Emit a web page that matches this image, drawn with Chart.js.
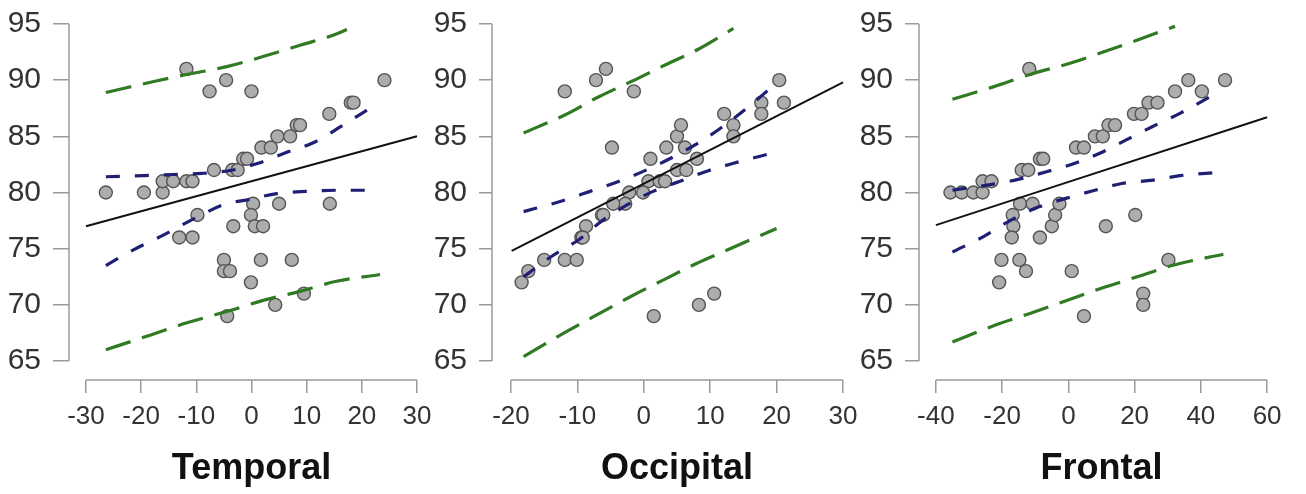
<!DOCTYPE html>
<html>
<head>
<meta charset="utf-8">
<script src="https://cdn.jsdelivr.net/npm/chart.js@4.4.0/dist/chart.umd.min.js"></script>
<style>
  html, body { margin: 0; padding: 0; background: #fff; }
  #wrap { position: relative; width: 1306px; height: 494px; overflow: hidden; }
  canvas { position: absolute; top: 0; }
</style>
</head>
<body>
<div id="wrap">
  <canvas id="temporal" width="436" height="494" style="left:0px"></canvas>
  <canvas id="occipital" width="436" height="494" style="left:430px"></canvas>
  <canvas id="frontal" width="450" height="494" style="left:856px"></canvas>
</div>
<script>
// valores de eje y
const yTicks = [65, 70, 75, 80, 85, 90, 95];

// Temporal
const temporalTicks = [-30, -20, -10, 0, 10, 20, 30];
const temporalPoints = [
  [-26.4, 80], [-19.5, 80], [-16.1, 80], [-16.1, 81], [-14.2, 81], [-11.8, 81], [-10.7, 81],
  [-11.8, 91], [-7.6, 89], [-4.6, 90], [0.0, 89], [-6.8, 82], [-3.5, 82], [-2.5, 82],
  [-1.5, 83], [-0.8, 83], [1.8, 84], [3.5, 84], [4.7, 85], [7.0, 85], [8.2, 86], [8.8, 86],
  [14.1, 87], [18.0, 88], [18.5, 88], [24.1, 90], [-9.8, 78], [0.3, 79], [5.0, 79], [14.2, 79],
  [-0.1, 78], [-3.3, 77], [0.6, 77], [2.1, 77], [-13.1, 76], [-10.7, 76], [-5.0, 74],
  [-5.0, 73], [-3.9, 73], [1.7, 74], [7.3, 74], [-0.1, 72], [-4.4, 69], [4.3, 70], [9.5, 71]
];
const temporalFit = [[-30, 77.0], [30, 85.0]];
const temporalCiUp = [[-26.4, 81.4], [-19.5, 81.5], [-14.3, 81.6], [-9.0, 81.7], [-3.4, 82.0],
  [1.2, 82.6], [6.5, 83.6], [11.5, 84.5], [16.3, 85.9], [22.1, 87.7]];
const temporalCiLo = [[-26.4, 73.5], [-21.4, 74.9], [-16.0, 76.2], [-9.9, 77.8], [-5.1, 78.9],
  [-0.3, 79.4], [4.6, 79.9], [10.0, 80.1], [15.4, 80.2], [22.1, 80.2]];
const temporalPiUp = [[-26.4, 88.9], [-17.5, 89.9], [-11.8, 90.5], [-4.5, 91.2], [2.1, 92.1],
  [8.8, 93.1], [14.8, 94.0], [17.3, 94.5]];
const temporalPiLo = [[-26.4, 66.0], [-18.4, 67.3], [-11.7, 68.4], [-4.5, 69.4], [2.1, 70.4],
  [8.8, 71.2], [15.4, 72.1], [23.3, 72.7]];

// Occipital
const occipitalTicks = [-20, -10, 0, 10, 20, 30];
const occipitalPoints = [
  [-11.9, 89], [-7.2, 90], [-5.7, 91], [-1.5, 89], [-4.8, 84], [1.0, 83], [3.4, 84], [5.0, 85],
  [5.6, 86], [6.2, 84], [5.0, 82], [6.4, 82], [8.0, 83], [12.1, 87], [13.5, 86], [13.5, 85],
  [17.7, 88], [17.7, 87], [20.4, 90], [21.1, 88], [0.7, 81], [2.4, 81], [3.2, 81], [-0.1, 80],
  [-2.2, 80], [-2.8, 79], [-4.6, 79], [-6.3, 78], [-6.1, 78], [-8.7, 77], [-9.4, 76], [-9.2, 76],
  [-18.4, 72], [-17.4, 73], [-15.0, 74], [-11.9, 74], [-10.1, 74], [1.5, 69], [8.3, 70], [10.6, 71]
];
const occipitalFit = [[-19.9, 74.8], [30, 89.8]];
const occipitalCiUp = [[-18.1, 78.3], [-12.6, 79.2], [-8.1, 80.1], [-3.7, 81.0], [0.0, 81.9],
  [3.9, 83.0], [8.2, 84.4], [11.5, 85.7], [15.5, 87.5], [19.3, 89.4]];
const occipitalCiLo = [[-18.1, 72.5], [-13.8, 74.35], [-9.8, 75.8], [-6.25, 77.5], [-2.2, 79.0],
  [1.4, 80.1], [5.45, 81.0], [9.5, 81.9], [13.5, 82.6], [19.3, 83.5]];
const occipitalPiUp = [[-18.1, 85.3], [-11.9, 86.9], [-6.85, 88.5], [-1.8, 89.9], [3.2, 91.35],
  [8.2, 92.75], [13.5, 94.6]];
const occipitalPiLo = [[-18.1, 65.4], [-12.0, 67.5], [-7.1, 69.1], [-2.1, 70.7], [2.9, 72.2],
  [8.0, 73.7], [13.0, 75.0], [20.0, 76.8]];

// Frontal
const frontalTicks = [-40, -20, 0, 20, 40, 60];
const frontalPoints = [
  [-35.6, 80], [-32.2, 80], [-28.7, 80], [-25.9, 80], [-25.9, 81], [-23.2, 81], [-14.1, 82],
  [-12.1, 82], [-8.6, 83], [-7.6, 83], [2.3, 84], [4.7, 84], [8.0, 85], [10.4, 85], [12.1, 86],
  [14.1, 86], [19.8, 87], [22.1, 87], [24.2, 88], [26.9, 88], [32.2, 89], [36.2, 90], [40.3, 89],
  [47.3, 90], [-11.8, 91], [-14.6, 79], [-10.8, 79], [-16.8, 78], [-16.6, 77], [-17.1, 76],
  [-8.6, 76], [-5.0, 77], [-4.0, 78], [-2.7, 79], [11.3, 77], [20.2, 78], [-20.2, 74],
  [-14.8, 74], [-12.8, 73], [-20.9, 72], [1.0, 73], [4.7, 69], [22.6, 71], [22.6, 70], [30.2, 74]
];
const frontalFit = [[-40, 77.1], [60, 86.7]];
const frontalCiUp = [[-35, 80.2], [-16.1, 81.1], [-6.6, 81.85], [2.0, 82.6], [9.5, 83.5],
  [17.6, 84.7], [25.6, 85.9], [33.7, 87.05], [43.8, 88.7]];
const frontalCiLo = [[-35, 74.7], [-25.5, 76.1], [-17.6, 77.5], [-9.1, 78.7], [-0.5, 79.5],
  [8.0, 80.2], [16.1, 80.8], [25.6, 81.1], [33.7, 81.5], [45.3, 81.8]];
const frontalPiUp = [[-35, 88.3], [-22.7, 89.4], [-10.6, 90.6], [0.5, 91.5], [10.5, 92.5],
  [21.1, 93.6], [32.2, 94.8]];
const frontalPiLo = [[-35, 66.7], [-22.0, 68.2], [-11.4, 69.25], [-0.3, 70.4], [10.2, 71.5],
  [20.8, 72.5], [31.9, 73.55], [46.8, 74.5]];

const FONT = "'Liberation Sans', Arial, Helvetica, sans-serif";
const AXIS_COLOR = '#9a9a9a';

const toXY = arr => arr.map(p => ({ x: p[0], y: p[1] }));

// linea de eje estilo R: solo entre el primer y ultimo tick
const rAxes = {
  id: 'rAxes',
  afterDraw(chart) {
    const { ctx, chartArea, scales } = chart;
    const xs = scales.x, ys = scales.y;
    ctx.save();
    ctx.strokeStyle = AXIS_COLOR;
    ctx.lineWidth = 1.5;
    ctx.beginPath();
    ctx.moveTo(chartArea.left, ys.getPixelForValue(ys.ticks[0].value));
    ctx.lineTo(chartArea.left, ys.getPixelForValue(ys.ticks[ys.ticks.length - 1].value));
    ctx.moveTo(xs.getPixelForValue(xs.ticks[0].value), chartArea.bottom);
    ctx.lineTo(xs.getPixelForValue(xs.ticks[xs.ticks.length - 1].value), chartArea.bottom);
    ctx.stroke();
    ctx.restore();
  }
};

function curve(data, color, width, dash) {
  return {
    data: toXY(data),
    showLine: true,
    borderColor: color,
    borderWidth: width,
    borderDash: dash,
    pointRadius: 0,
    fill: false,
    cubicInterpolationMode: 'monotone'
  };
}

function panel(id, p) {
  new Chart(document.getElementById(id), {
    type: 'scatter',
    data: {
      datasets: [
        curve(p.fit, '#111111', 2, []),
        curve(p.ciUp, '#1f1f75', 3.2, [14, 15]),
        curve(p.ciLo, '#1f1f75', 3.2, [14, 15]),
        curve(p.piUp, '#2f7a22', 3.2, [26, 12]),
        curve(p.piLo, '#2f7a22', 3.2, [26, 12]),
        {
          data: toXY(p.points),
          pointRadius: 6.5,
          pointBackgroundColor: '#adadad',
          pointBorderColor: '#555555',
          pointBorderWidth: 1.4
        }
      ]
    },
    options: {
      responsive: false,
      animation: false,
      layout: { autoPadding: false, padding: { top: 5, right: p.padRight, bottom: 0, left: 0 } },
      plugins: { legend: { display: false }, tooltip: { enabled: false } },
      scales: {
        x: {
          type: 'linear',
          min: p.xMin,
          max: p.xMax,
          afterBuildTicks: s => { s.ticks = p.xTicks.map(v => ({ value: v })); },
          afterFit: s => { s.height = 114; s.paddingLeft = 0; s.paddingRight = 0; },
          grid: { display: true, drawOnChartArea: false, drawTicks: true, tickLength: 13, color: AXIS_COLOR, lineWidth: 1.5 },
          border: { display: false },
          ticks: { color: '#333', padding: 8, maxRotation: 0, autoSkip: false, font: { family: FONT, size: 26 } },
          title: {
            display: true,
            text: p.title,
            color: '#111',
            padding: { top: 0, bottom: 3 },
            font: { family: FONT, size: 36, weight: 'bold' }
          }
        },
        y: {
          min: 63.31,
          max: 96.69,
          afterBuildTicks: s => { s.ticks = yTicks.map(v => ({ value: v })); },
          afterFit: s => { s.width = p.yWidth; s.paddingTop = 0; s.paddingBottom = 0; },
          grid: { display: true, drawOnChartArea: false, drawTicks: true, tickLength: p.yTick, color: AXIS_COLOR, lineWidth: 1.5 },
          border: { display: false },
          ticks: { color: '#333', padding: 12, autoSkip: false, font: { family: FONT, size: 30 } }
        }
      }
    },
    plugins: [rAxes]
  });
}

panel('temporal', {
  title: 'Temporal', points: temporalPoints, fit: temporalFit,
  ciUp: temporalCiUp, ciLo: temporalCiLo, piUp: temporalPiUp, piLo: temporalPiLo,
  xTicks: temporalTicks, xMin: -33.08, xMax: 33.08, yWidth: 69, yTick: 16, padRight: 2
});
panel('occipital', {
  title: 'Occipital', points: occipitalPoints, fit: occipitalFit,
  ciUp: occipitalCiUp, ciLo: occipitalCiLo, piUp: occipitalPiUp, piLo: occipitalPiLo,
  xTicks: occipitalTicks, xMin: -22.86, xMax: 32.86, yWidth: 62, yTick: 13, padRight: 4
});
panel('frontal', {
  title: 'Frontal', points: frontalPoints, fit: frontalFit,
  ciUp: frontalCiUp, ciLo: frontalCiLo, piUp: frontalPiUp, piLo: frontalPiLo,
  xTicks: frontalTicks, xMin: -45.1, xMax: 65.1, yWidth: 63, yTick: 14, padRight: 22
});
</script>
</body>
</html>
